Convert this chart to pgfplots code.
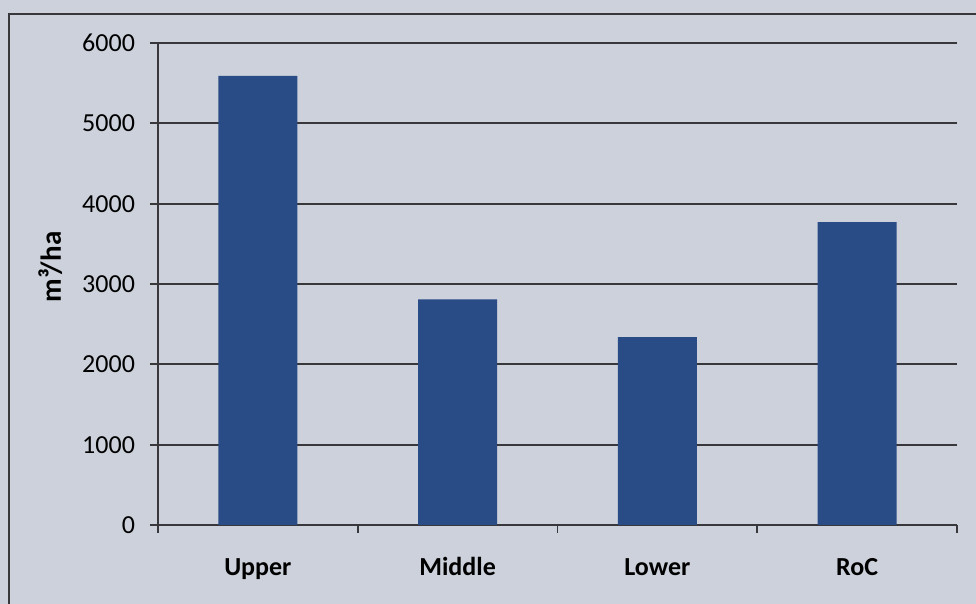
\documentclass[border=0pt]{standalone}
\usepackage{fontspec}
\setmainfont{Carlito}
\usepackage{pgfplots}
\pgfplotsset{compat=1.18}

\definecolor{paper}{RGB}{204,209,219}
\definecolor{barblue}{RGB}{42,76,134}
\definecolor{gridgray}{RGB}{55,55,60}

\begin{document}
\begin{tikzpicture}
  \clip (0,0) rectangle (488pt,302pt);
  \fill[paper] (0,0) rectangle (488pt,302pt);
  % chart area frame
  \draw[gridgray, line width=0.75pt] (4.5pt,-10pt) -- (4.5pt,295pt) -- (500pt,295pt);
  \begin{axis}[
    at={(79pt,39.5pt)}, anchor=south west,
    scale only axis, width=399.5pt, height=241pt,
    xmin=-0.5, xmax=3.5, ymin=0, ymax=6000,
    axis x line*=bottom, axis y line*=left,
    axis line style={gridgray, line width=0.9pt, -},
    ytick={0,1000,2000,3000,4000,5000,6000},
    % ticks at category boundaries, names centred between them
    xtick={-0.5,0.5,1.5,2.5,3.5},
    x tick label as interval,
    xticklabels={Upper,Middle,Lower,RoC},
    tick align=outside,
    major tick length=4pt,
    tick style={gridgray, line width=0.9pt},
    ymajorgrids,
    major grid style={gridgray, line width=0.9pt},
    scaled y ticks=false,
    /pgf/number format/assume math mode=true,
    /pgf/number format/1000 sep={},
    yticklabel style={font=\fontsize{13}{15}\selectfont, black, xshift=-4pt},
    xticklabel style={font=\fontsize{13}{15}\selectfont\bfseries, black,
                      text height=9.5pt, text depth=3pt, yshift=-8pt},
    ylabel={m³/ha},
    ylabel style={at={(axis description cs:-0.135,0.535)}, anchor=center,
                  font=\fontsize{14.5}{17}\selectfont\bfseries},
  ]
    \addplot[ybar, bar width=39.5pt, fill=barblue, draw=none]
      coordinates {(0,5590) (1,2810) (2,2340) (3,3770)};
  \end{axis}
\end{tikzpicture}
\end{document}
